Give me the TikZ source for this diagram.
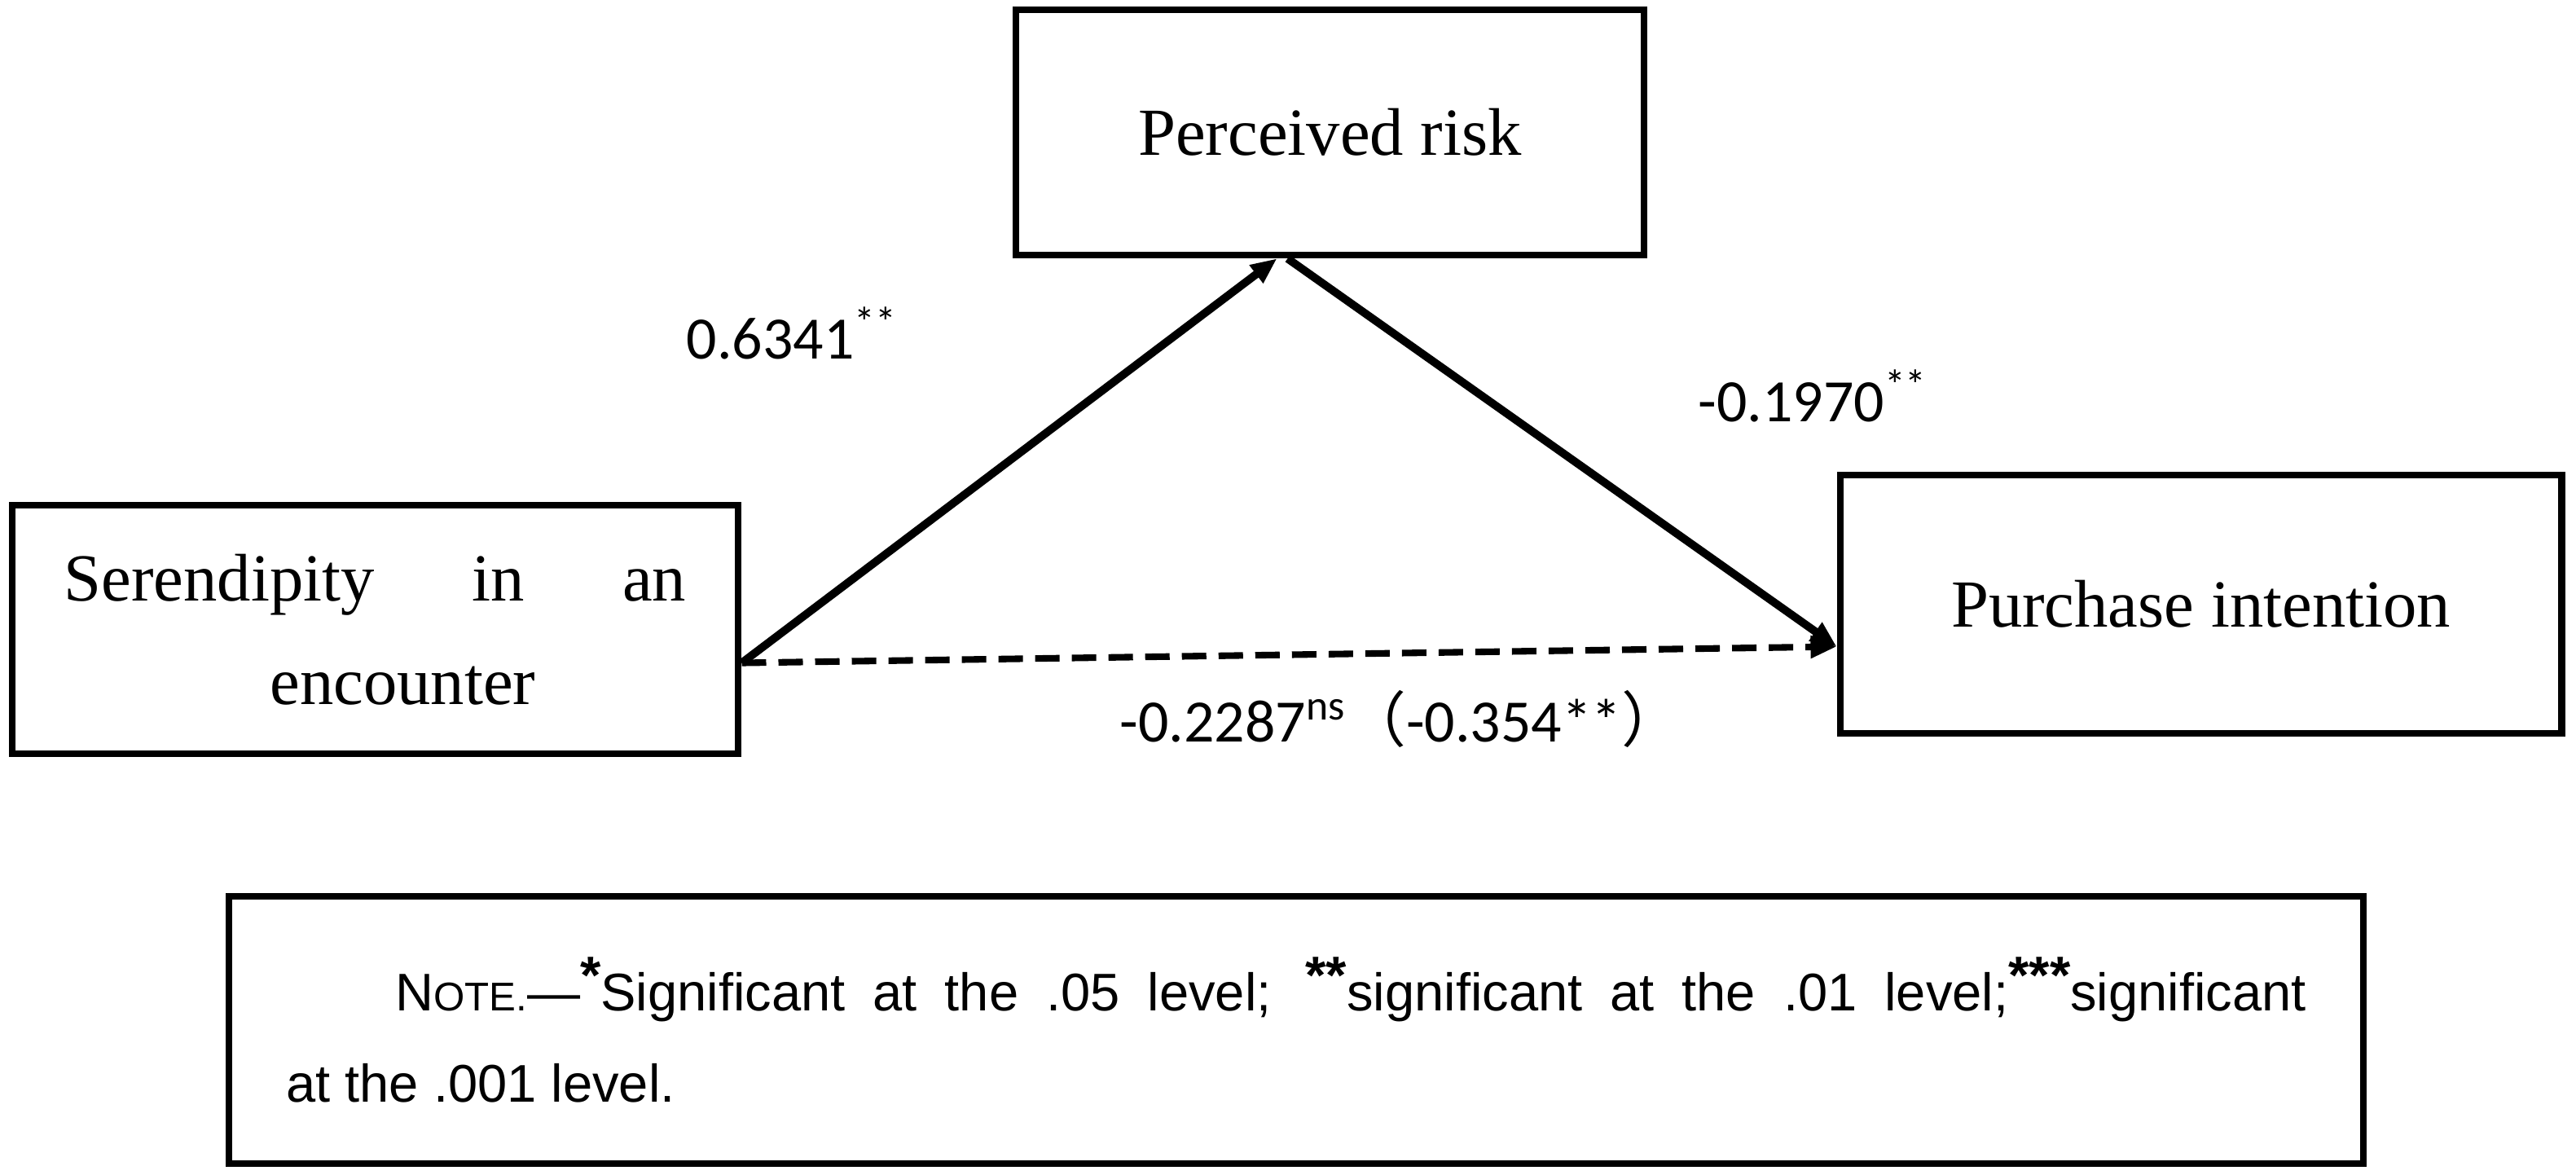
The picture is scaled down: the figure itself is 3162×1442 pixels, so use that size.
\documentclass[tikz,border=0pt]{standalone}
\usepackage{fontspec}
\setmainfont{Liberation Serif}
\newfontfamily\numfont{Carlito}
\newfontfamily\notefont{Liberation Sans}
\newfontfamily\cjkfont{Noto Sans CJK SC}
\usepackage{tikz}
\usetikzlibrary{arrows.meta}
\newcommand{\sig}[1]{\raisebox{0.32em}{\bfseries #1}}

\begin{document}
\begin{tikzpicture}[x=0.01cm,y=-0.01cm,
  varbox/.style={draw,line width=2.4pt,rectangle,font=\fontsize{23.5}{36}\selectfont},
  coef/.style={font=\numfont\fontsize{21}{25}\selectfont,inner sep=0pt,anchor=base west},
  effect/.style={line width=2.8pt,-{Triangle[length=0.32cm,width=0.26cm]}}]
\useasboundingbox (0,0) rectangle (3162,1442);

\node[varbox,minimum width=7.71cm,minimum height=3.01cm] (risk) at (1632.5,162.5) {Perceived risk};
\node[varbox,minimum width=8.91cm,minimum height=3.05cm,text width=7.63cm,align=center] (ser) at (460.5,772.5)
  {\makebox[7.63cm]{Serendipity\hfill in\hfill an}\\\hspace*{0.68cm}encounter};
\node[varbox,minimum width=8.85cm,minimum height=3.17cm] (buy) at (2701.5,741.5) {Purchase intention};

\draw[effect] ([yshift=-0.41cm]ser.east) -- ([xshift=-0.65cm]risk.south);
\draw[effect] ([xshift=-0.52cm]risk.south) -- ([yshift=-0.52cm]buy.west);
\draw[effect,line width=2.3pt,dash pattern=on 0.3cm off 0.15cm] ([yshift=-0.41cm]ser.east) -- ([yshift=-0.52cm]buy.west);

\node[coef] (a) at (842,440) {0.6341\textsuperscript{**}};
\node[coef] (b) at (2084,517) {-0.1970\textsuperscript{**}};
\node[coef] (c) at (1374,910) {-0.2287\textsuperscript{ns}{\cjkfont （}-0.354**{\cjkfont ）}};

\node[draw,line width=2.4pt,minimum width=26.18cm,minimum height=3.28cm,text width=24.78cm,align=justify,
  font=\notefont\fontsize{18.5}{32}\selectfont] (note) at (1591,1264)
  {\hspace*{1.34cm}N{\fontsize{14}{32}\selectfont OTE.}—\sig{*}Significant at the .05 level; \sig{**}significant at the .01 level;\sig{***}significant\linebreak at the .001 level.};
\end{tikzpicture}
\end{document}
